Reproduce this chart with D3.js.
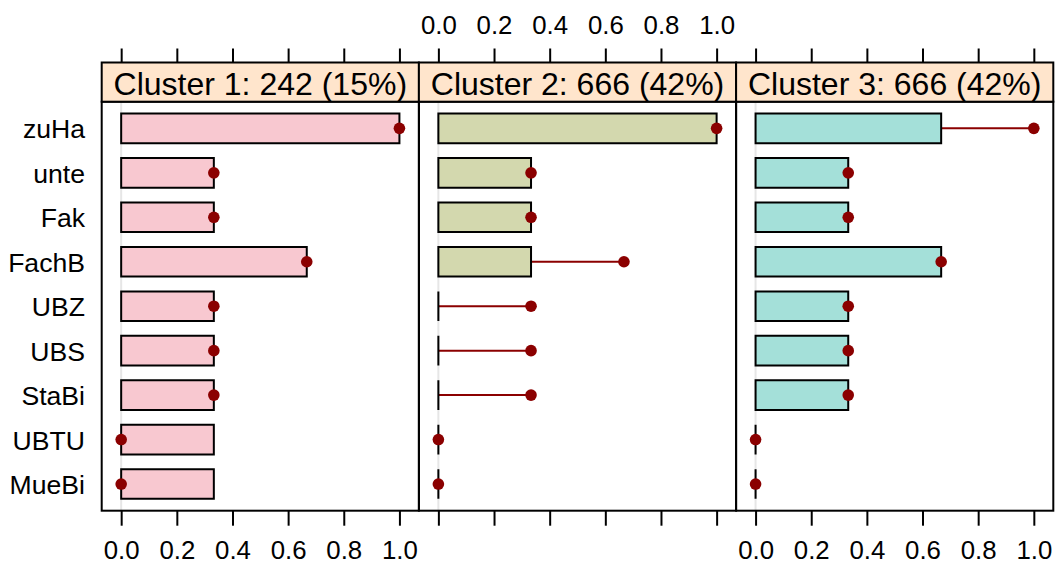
<!DOCTYPE html>
<html>
<head>
<meta charset="utf-8">
<script src="https://cdn.jsdelivr.net/npm/d3@7"></script>
<style>
  html, body { margin: 0; padding: 0; background: #ffffff; }
  svg { display: block; font-family: "Liberation Sans", Arial, Helvetica, sans-serif; }
</style>
</head>
<body>
<svg id="chart" width="1056" height="563"></svg>
<script>
// Variables shown on the y axis, top to bottom
const variables = ["zuHa", "unte", "Fak", "FachB", "UBZ", "UBS", "StaBi", "UBTU", "MueBi"];

// Panel titles
const clusterTitles = ["Cluster 1: 242 (15%)", "Cluster 2: 666 (42%)", "Cluster 3: 666 (42%)"];

// Cluster centre values (bars), one array per cluster
const cluster1 = [1.000, 0.333, 0.333, 0.667, 0.333, 0.333, 0.333, 0.333, 0.333];
const cluster2 = [1.000, 0.333, 0.333, 0.333, 0.000, 0.000, 0.000, 0.000, 0.000];
const cluster3 = [0.667, 0.333, 0.333, 0.667, 0.333, 0.333, 0.333, 0.000, 0.000];

// Overall centre (dots), shared by all panels
const population = [1.000, 0.333, 0.333, 0.667, 0.333, 0.333, 0.333, 0.000, 0.000];

// Axis tick values and labels
const tickValues = [0, 0.2, 0.4, 0.6, 0.8, 1.0];
const tickLabels = ["0.0", "0.2", "0.4", "0.6", "0.8", "1.0"];

const clusters = [cluster1, cluster2, cluster3];
const fills = ["#f8c8d0", "#d3d8ae", "#a4e0d9"];

const svg = d3.select("#chart");

const panelLeft = 101.7, panelW = 317.2;
const panelTop = 101.7, panelBottom = 510.7;
const stripTop = 62.5;
const axisFont = 25.8, labelFont = 26.6, stripFont = 32;
const dotColor = "#8b0000";

// Factor positions 1..n from the bottom, padded by 0.6 on each end
const yScale = d3.scaleLinear()
  .domain([0.4, variables.length + 0.6])
  .range([panelBottom, panelTop]);
const yPos = i => yScale(variables.length - i);
const barH = (yScale(0) - yScale(2 / 3));

clusters.forEach((vals, p) => {
  const x0 = panelLeft + p * panelW;
  const x = d3.scaleLinear().domain([-0.07, 1.07]).range([x0, x0 + panelW]);
  const g = svg.append("g");

  // reference line at zero
  g.append("line")
    .attr("x1", x(0)).attr("x2", x(0))
    .attr("y1", panelTop).attr("y2", panelBottom)
    .attr("stroke", "#e6e6e6").attr("stroke-width", 2);

  // segments from bar end to the overall centre (bars are drawn over them)
  g.selectAll("line.seg").data(vals).join("line")
    .attr("class", "seg")
    .attr("x1", v => x(v))
    .attr("x2", (v, i) => x(population[i]))
    .attr("y1", (v, i) => yPos(i)).attr("y2", (v, i) => yPos(i))
    .attr("stroke", dotColor).attr("stroke-width", 2);

  // bars (drawn as paths so that zero-length bars still show their outline)
  g.selectAll("path.bar").data(vals).join("path")
    .attr("class", "bar")
    .attr("d", (v, i) => {
      const pth = d3.path();
      pth.rect(x(0), yPos(i) - barH / 2, x(v) - x(0), barH);
      return pth.toString();
    })
    .attr("fill", fills[p])
    .attr("stroke", "#000").attr("stroke-width", 2);

  g.selectAll("circle").data(population).join("circle")
    .attr("cx", v => x(v))
    .attr("cy", (v, i) => yPos(i))
    .attr("r", 5.8)
    .attr("fill", dotColor);

  // panel border
  g.append("rect")
    .attr("x", x0).attr("y", panelTop)
    .attr("width", panelW).attr("height", panelBottom - panelTop)
    .attr("fill", "none").attr("stroke", "#000").attr("stroke-width", 2);

  // strip
  g.append("rect")
    .attr("x", x0).attr("y", stripTop)
    .attr("width", panelW).attr("height", panelTop - stripTop)
    .attr("fill", "#ffe5cc").attr("stroke", "#000").attr("stroke-width", 2);
  g.append("text")
    .attr("x", x0 + panelW / 2).attr("y", 94.5)
    .attr("text-anchor", "middle")
    .attr("font-size", stripFont)
    .attr("fill", "#000")
    .text(clusterTitles[p]);

  // top axis: ticks everywhere, labels on the middle panel
  const topAxis = d3.axisTop(x).tickValues(tickValues)
    .tickFormat((d, i) => p === 1 ? tickLabels[i] : "")
    .tickSize(14).tickPadding(15);
  const gt = svg.append("g").attr("transform", `translate(0,${stripTop})`).call(topAxis);

  // bottom axis: ticks everywhere, labels on outer panels
  const bottomAxis = d3.axisBottom(x).tickValues(tickValues)
    .tickFormat((d, i) => p !== 1 ? tickLabels[i] : "")
    .tickSize(15).tickPadding(15);
  const gb = svg.append("g").attr("transform", `translate(0,${panelBottom})`).call(bottomAxis);

  [gt, gb].forEach(a => {
    a.select(".domain").remove();
    a.selectAll(".tick line").attr("stroke", "#000").attr("stroke-width", 2);
    a.selectAll(".tick text")
      .attr("font-size", axisFont)
      .attr("font-family", "Liberation Sans, Arial, sans-serif")
      .attr("fill", "#000");
  });
});

// y labels
svg.append("g").selectAll("text").data(variables).join("text")
  .attr("x", 85)
  .attr("y", (d, i) => yPos(i) + 10)
  .attr("text-anchor", "end")
  .attr("font-size", labelFont)
  .attr("fill", "#000")
  .text(d => d);
</script>
</body>
</html>
